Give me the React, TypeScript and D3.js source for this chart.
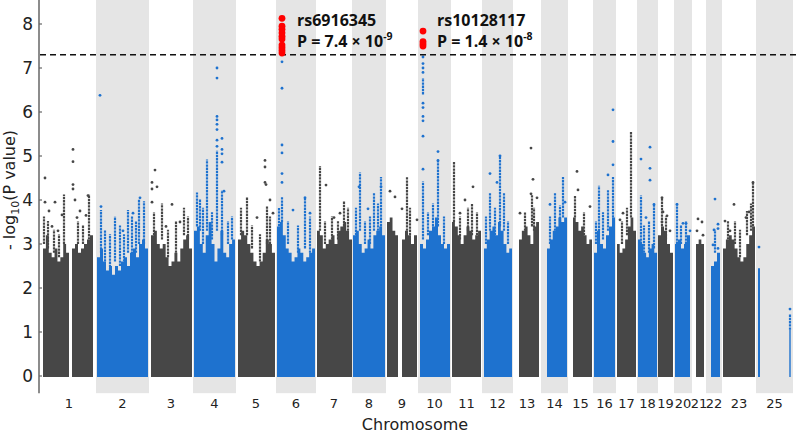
import React from "react";
import * as d3 from "d3";

const chromosomes = ["1","2","3","4","5","6","7","8","9","10","11","12","13","14","15","16","17","18","19","20","21","22","23","25"];
// cumulative genomic position extents (arbitrary units)
const chromExtents: [number, number][] = [
  [3,55],[56,109],[110,152],[153,196],[197,235],[236,276],[277,311],[312,346],[347,377],[378,411],
  [412,441],[442,473],[474,500],[501,528],[529,552],[553,576],[577,596],[597,618],[618,633],[634,652],
  [653,665],[666,682],[683,715],[716,753]
];

// dense bulk of SNPs: chromosome index, range, binned upper level (-log10 P)
const blockChrom = [0,0,1,2,3,4,5,6,7,8,8,9,10,11,12,13,14,15,16,17,18,19,20,21,22,23,23];
const blockRange: [number, number][] = [
  [3,29],[32,53],[57,108],[111,152],[154,195],[198,235],[237,275],[277,312],[313,345],[347,358],[362,377],
  [380,410],[412,441],[444,472],[479,499],[507,527],[533,552],[554,575],[577,596],[598,617],[618,633],
  [635,650],[656,664],[671,680],[683,715],[718,720],[749.3,750.7]
];
const blockLevels: number[][] = [
  [2.9,3.2,2.8,2.7,2.9,2.6,2.7,3.0,2.8],
  [2.9,3.0,2.8,2.9,3.0,3.1,3.2],
  [2.7,2.9,2.6,2.4,2.5,2.3,2.5,2.4,2.6,2.7,2.5,2.8,2.9,2.7,3.0,3.1,2.9],
  [3.2,3.3,3.0,2.9,3.0,2.7,2.5,2.6,2.8,2.6,2.9,3.1,3.2,2.9],
  [3.3,3.4,3.0,2.8,3.2,3.5,3.0,2.6,2.9,3.3,2.8,2.7,3.0,3.1],
  [3.1,3.3,3.2,3.0,2.8,2.6,2.5,2.6,2.8,3.1,3.0,2.8],
  [3.4,3.5,3.2,2.9,2.8,2.6,2.7,2.9,2.8,2.6,2.7,2.8,2.9],
  [3.3,3.2,2.9,3.0,3.1,3.2,3.0,3.3,3.4,3.5,3.3,3.1],
  [3.2,3.3,3.0,2.8,2.9,3.1,2.9,3.2,3.3,3.4,3.2],
  [3.5,3.6,3.3,3.2],
  [3.1,3.3,3.2,3.0,3.2],
  [3.0,2.9,3.1,3.3,3.4,3.6,3.2,3.0,2.9,3.0],
  [3.5,3.4,3.2,3.0,3.2,3.4,3.3,3.1,3.2,3.3],
  [2.9,3.1,3.3,3.4,3.2,3.5,3.3,3.0,2.8,2.9],
  [3.1,3.3,3.4,3.2,3.0,3.4,3.5],
  [2.9,3.1,3.3,3.4,3.6,3.5,3.6],
  [3.6,3.5,3.3,3.4,3.2,3.0,3.1],
  [2.8,3.3,3.0,2.9,3.2,3.4,3.6],
  [3.0,2.8,2.9,3.1,3.4,3.6,3.3],
  [3.1,3.0,2.8,2.7,2.9,3.0,2.8],
  [3.2,3.4,3.3,3.0,2.8],
  [3.0,3.1,2.9,3.0,3.2],
  [3.0,3.1,3.0],
  [2.5,2.6,2.8],
  [2.9,3.1,3.2,3.1,2.9,2.7,2.6,2.7,3.0,3.2,3.4],
  [2.45],
  [1.05]
];

// vertical runs of SNPs: [position, from, to]
const snpColumns: [number, number, number][] = [
  [4,3.0,3.6],[8,2.9,3.5],[14,2.8,3.3],[19,2.7,3.2],[24,3.0,4.1],[38,3.0,3.5],[43,3.0,3.4],[49,3.1,4.1],
  [61,2.8,3.75],[65,2.6,3.3],[70,2.4,3.2],[75,2.6,3.6],[80,2.5,3.4],[84,2.6,3.2],[88,2.8,3.75],[92,2.7,3.6],
  [96,2.8,3.5],[99,3.0,4.0],[104,3.0,3.95],
  [114,3.2,3.7],[122,3.1,3.9],[128,2.7,3.3],[136,2.8,3.5],[144,3.2,3.8],[148,3.1,3.6],
  [157,3.4,4.15],[160,3.3,4.0],[163,3.0,3.8],[167,3.3,4.9],[172,3.1,3.7],[177,3.3,5.1],[182,3.2,4.2],
  [188,3.0,3.5],[192,3.1,3.6],
  [201,3.2,3.8],[207,3.2,4.05],[212,2.9,3.4],[220,2.6,3.2],[227,3.0,3.85],[230,3.0,3.6],
  [239,3.4,3.8],[242,3.5,4.05],[248,3.0,3.5],[258,2.8,3.4],[265,2.9,4.05],[270,2.8,3.6],
  [280,3.3,4.75],[285,3.0,3.5],[292,3.1,3.6],[298,3.1,3.5],[304,3.4,3.95],[308,3.3,3.8],
  [316,3.2,3.8],[320,3.3,4.6],[325,3.0,3.5],[330,3.0,3.6],[334,3.3,4.15],[338,3.3,3.9],[341,3.4,4.5],
  [367,3.3,4.5],[370,3.2,3.8],
  [383,3.1,4.4],[383,6.4,6.75],[388,3.2,3.7],[393,3.4,3.9],[398,3.4,4.9],[404,3.0,3.6],
  [414,3.5,4.85],[420,3.1,3.6],[428,3.3,3.8],[432,3.2,3.9],[437,3.2,3.7],
  [446,3.0,3.6],[450,3.3,4.15],[455,3.2,3.8],[460,3.4,5.0],[464,3.3,4.15],[468,3.0,3.5],
  [485,3.3,3.7],[492,3.4,4.1],[494,3.3,3.8],
  [510,3.0,3.6],[515,3.3,4.15],[520,3.5,3.85],[523,3.6,4.5],
  [535,3.6,4.07],[544,3.2,3.7],
  [556,3.0,3.5],[559,3.0,4.3],[563,3.1,3.7],[568,3.3,4.2],[573,3.6,4.5],
  [582,3.0,3.5],[587,3.2,3.8],[591,3.6,5.53],
  [601,3.0,4.08],[604,2.8,3.4],[609,2.8,3.5],[614,2.9,3.9],
  [622,3.4,4.05],[626,3.1,3.6],
  [637,3.0,3.9],[641,3.0,3.4],[646,3.0,3.5],
  [675,2.8,3.3],
  [688,3.1,3.5],[695,3.0,3.5],[700,2.7,3.3],[707,3.2,3.73],[711,3.3,3.9],[713,3.4,4.4],
  [750,1.05,1.39]
];

// individual SNPs above the bulk: [position, -log10 P]
const snpPoints: [number, number][] = [
  [5,4.5],[5,3.95],[9,3.75],[15,3.95],[22,3.66],[12,3.4],[18,3.3],
  [33,5.15],[33,4.87],[33,4.35],[33,4.25],[35,4.0],[37,3.6],[40,3.75],[46,3.65],[48,4.1],
  [60,6.38],[61,3.85],[83,3.3],[93,3.7],[100,4.05],
  [112,4.4],[112,4.25],[112,3.95],[115,4.68],[117,4.3],[132,3.9],[126,3.4],[140,3.5],
  [177,7.0],[177,6.77],[177,5.9],[177,5.82],[177,5.72],[177,5.6],[177,5.36],[177,5.22],
  [182,5.4],[182,5.15],[182,5.05],[182,4.86],[184,4.2],
  [225,4.9],[225,4.75],[225,4.4],[226,4.35],[230,4.0],[217,3.6],[233,3.7],
  [242,7.14],[242,6.54],[242,5.25],[242,5.07],[242,4.6],[242,4.4],[253,3.77],[265,4.05],[270,3.7],
  [286,4.34],[300,3.7],[294,3.6],
  [319,4.3],[341,4.3],[328,3.8],
  [350,4.2],[355,4.07],[377,3.55],[362,3.8],
  [383,7.25],[383,7.1],[383,7.0],[383,6.9],[383,6.2],[383,6.1],[383,5.9],[383,5.8],[383,5.45],[383,4.7],
  [398,5.1],[398,4.9],
  [425,4.0],[433,4.3],[420,3.7],
  [450,4.6],[460,5.0],[457,4.4],
  [491,5.18],[493,4.47],[491,4.14],[497,4.05],[480,3.7],
  [510,3.9],[525,3.95],
  [537,4.65],[538,4.23],[550,3.85],
  [573,6.05],[573,5.33],[573,4.8],[568,4.57],
  [580,3.55],[583,3.7],
  [610,5.2],[601,4.93],[610,4.72],[610,4.45],[614,3.9],[606,3.6],
  [622,4.05],[623,3.73],[627,3.64],[622,3.5],[630,3.3],
  [637,3.9],[643,3.47],[646,3.47],[650,3.3],
  [658,3.57],[662,3.5],[657,3.3],[663,3.2],
  [675,4.02],[674,3.32],[678,3.45],[678,3.35],[673,2.98],[678,2.9],
  [694,3.9],[685,3.52],[706,3.6],[709,3.73],[690,3.3],[713,4.4],
  [719,2.93],[750,1.52]
];

// genome-wide significant SNPs
const sigPoints: [number, number][] = [
  [242,8.13],[242,7.95],[242,7.88],[242,7.8],[242,7.72],[242,7.66],[242,7.52],[242,7.46],[242,7.4],[242,7.34],
  [383,7.84],[383,7.6],[383,7.55],[383,7.5]
];
const annotations = [
  { pos: 257, snp: "rs6916345", mant: "7.4", exp: "-9" },
  { pos: 397, snp: "rs10128117", mant: "1.4", exp: "-8" }
];
const yTicks = [0,1,2,3,4,5,6,7,8];
const threshold = -Math.log10(5e-8);

const W = 800, H = 433;
const DARK = "#474747", BLUE = "#1e72cf", BAND = "#e5e5e5";

export default function App() {
  const x = d3.scaleLinear().domain([0, 760]).range([40, 800]);
  const y = d3.scaleLinear().domain([0, 8]).range([376, 24]);
  const colorOf = (p: number) => {
    const i = chromExtents.findIndex(([a, b]) => p >= a && p <= b);
    return i % 2 === 0 ? DARK : BLUE;
  };
  const area = d3.area<[number, number]>()
    .x(d => x(d[0])).y0(y(0) + 1).y1(d => y(d[1]))
    .curve(d3.curveStepAfter);
  const font = "'DejaVu Sans', sans-serif";

  return (
    <svg width={W} height={H} style={{ position: "absolute", left: 0, top: 0, background: "#fff" }}>
      {chromExtents.map(([a, b], i) => i % 2 === 1 ? (
        <rect key={"b" + i} x={x(a)} y={0} width={x(b) - x(a)} height={y(-0.39)} fill={BAND} />
      ) : null)}
      {blockRange.map(([a, b], k) => {
        const lv = blockLevels[k];
        const w = (b - a) / lv.length;
        const pts: [number, number][] = lv.map((v, i) => [a + i * w, v] as [number, number]);
        pts.push([b, lv[lv.length - 1]]);
        return <path key={"a" + k} d={area(pts) || ""} fill={blockChrom[k] % 2 === 0 ? DARK : BLUE} />;
      })}
      {snpColumns.map(([p, a, b], i) => (
        <line key={"c" + i} x1={x(p)} x2={x(p)} y1={y(a)} y2={y(b) - 1} stroke={colorOf(p)}
          strokeWidth={2.2} strokeDasharray="2.4,0.8" />
      ))}
      {snpPoints.map(([p, v], i) => (
        <circle key={"p" + i} cx={x(p)} cy={y(v)} r={1.4} fill={colorOf(p)} />
      ))}
      <line x1={40} x2={800} y1={y(threshold)} y2={y(threshold)} stroke="#111" strokeWidth={1.4} strokeDasharray="6,4" />
      {sigPoints.map(([p, v], i) => (
        <circle key={"s" + i} cx={x(p)} cy={y(v)} r={3.4} fill="#ff0000" />
      ))}
      {annotations.map((a, i) => (
        <g key={"t" + i} fontFamily="'Open Sans', sans-serif" fontWeight="bold" fill="#111">
          <text x={x(a.pos)} y={26} fontSize={16}>{a.snp}</text>
          <text x={x(a.pos)} y={46.5} fontSize={16}>
            {"P = " + a.mant + " × 10"}
            <tspan fontSize={10.5} dy={-7}>{a.exp}</tspan>
          </text>
        </g>
      ))}
      <line x1={39} x2={39} y1={0} y2={y(-0.39)} stroke="#666" strokeWidth={1.5} />
      {yTicks.map(t => (
        <g key={"y" + t}>
          <line x1={39} x2={42} y1={y(t)} y2={y(t)} stroke="#666" strokeWidth={1.2} />
          <text x={33} y={y(t)} dy="0.36em" textAnchor="end" fontSize={17} fontFamily={font} fill="#222">{t}</text>
        </g>
      ))}
      {chromosomes.map((c, i) => (
        <text key={"x" + i} x={x((chromExtents[i][0] + chromExtents[i][1]) / 2)} y={408}
          textAnchor="middle" fontSize={13} fontFamily={font} fill="#222">{c}</text>
      ))}
      <text x={415} y={430} textAnchor="middle" fontSize={16} fontFamily={font} fill="#222">Chromosome</text>
      <text transform="translate(15,190) rotate(-90)" textAnchor="middle" fontSize={16} fontFamily={font} fill="#222">
        {"- log"}<tspan fontSize={11} dy={4}>10</tspan><tspan dy={-4}>(P value)</tspan>
      </text>
    </svg>
  );
}
